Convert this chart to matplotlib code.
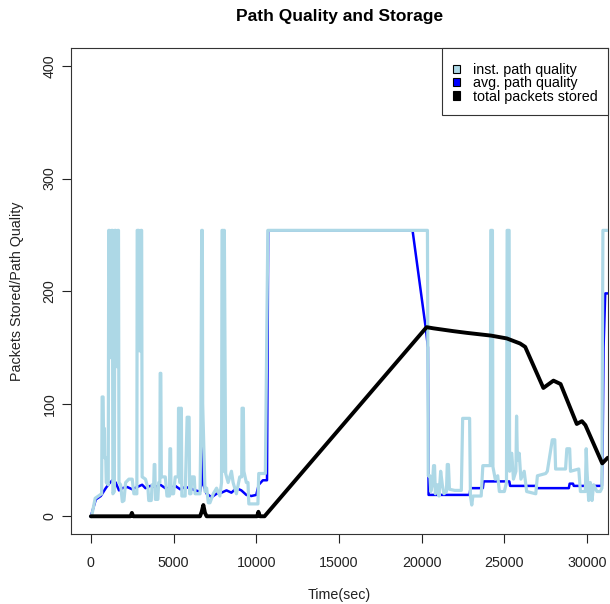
import matplotlib
matplotlib.use("Agg")
import matplotlib.pyplot as plt
from matplotlib.patches import Patch, Rectangle

plt.rcParams['font.family'] = ['Liberation Sans', 'DejaVu Sans']

# ---------------- data ----------------
inst_t = [0, 60, 260, 560, 650, 680, 740, 760, 820, 840, 900, 930, 1050, 1080, 1120, 1150, 1230,
          1260, 1300, 1330, 1420, 1450, 1500, 1530, 1600, 1630, 1670, 1700, 1800, 1900, 2000,
          2100, 2300, 2500, 2600, 2780, 2800, 2900, 2930, 3000, 3030, 3070, 3100, 3300, 3450,
          3500, 3650, 3700, 3800, 3830, 3870, 3900, 4050, 4100, 4170, 4190, 4230, 4260, 4500,
          4600, 4750, 4780, 4820, 4850, 5000, 5100, 5280, 5300, 5340, 5380, 5410, 5440, 5470,
          5500, 5700, 5820, 5940, 5970, 6050, 6100, 6250, 6300, 6600, 6650, 6700, 6740, 6760,
          6900, 7000, 7100, 7200, 7400, 7600, 7800, 7900, 7930, 7970, 8000, 8040, 8070, 8150,
          8300, 8500, 8600, 8800, 9000, 9120, 9140, 9220, 9250, 9400, 9500, 9550, 10000, 10100,
          10150, 10450, 10550, 10700, 20350, 20400, 20500, 20550, 20650, 20720, 20780, 20830,
          20950, 21050, 21150, 21250, 21350, 21500, 21550, 21620, 21680, 22000, 22400, 22480,
          22900, 22950, 23030, 23100, 23600, 23700, 24150, 24180, 24280, 24310, 24450, 24600,
          24700, 25000, 25130, 25170, 25290, 25320, 25450, 25550, 25700, 25740, 25790, 25900,
          26000, 26200, 26350, 26900, 27000, 27500, 27600, 27900, 28050, 28100, 28700, 28780,
          28950, 29000, 29500, 29600, 29900, 29950, 30000, 30100, 30200, 30300, 30400, 30600,
          30800, 30900, 30960, 31300]
inst_v = [0, 1, 16, 19, 20, 106, 106, 78, 78, 52, 52, 30, 28, 254, 254, 141, 141,
          254, 254, 20, 22, 254, 254, 133, 133, 254, 254, 30, 28, 13, 14,
          30, 33, 33, 20, 20, 254, 254, 147, 147, 254, 254, 35, 33, 25,
          14, 14, 28, 28, 46, 46, 15, 15, 30, 30, 127, 127, 35, 35,
          18, 18, 60, 60, 20, 20, 35, 35, 96, 96, 30, 30, 96, 96,
          18, 18, 88, 88, 20, 20, 35, 35, 20, 20, 80, 254, 254, 100,
          22, 25, 12, 12, 20, 25, 18, 30, 254, 254, 40, 254, 254, 38,
          30, 40, 30, 20, 35, 35, 96, 96, 40, 30, 30, 11, 11, 11,
          38, 38, 38, 254, 254, 36, 36, 22, 28, 45, 45, 20,
          28, 18, 40, 28, 20, 22, 46, 46, 24, 23, 23, 87,
          87, 18, 10, 18, 18, 45, 45, 254, 254, 44, 33, 36,
          22, 22, 30, 254, 254, 40, 56, 33, 40, 89, 50, 56,
          33, 40, 22, 20, 36, 38, 40, 68, 68, 42, 42, 60,
          60, 40, 42, 22, 22, 60, 40, 14, 30, 14, 28, 22,
          22, 25, 254, 254]

avg_t = [0, 300, 600, 900, 1100, 1300, 1500, 1700, 1900, 2200, 2500, 2800, 3100, 3300, 3600,
         3900, 4200, 4500, 4800, 5100, 5400, 5700, 6000, 6300, 6600, 6680, 6700, 6720, 6760,
         6800, 7000, 7300, 7600, 7900, 8200, 8500, 8800, 9100, 9400, 9700, 10000, 10150,
         10400, 10650, 10720, 19450, 20250, 20380, 20420, 21500, 22900, 22950, 23700, 23750,
         25300, 25350, 26900, 26950, 28900, 28950, 29150, 29200, 30900, 30950, 31000, 31100,
         31300]
avg_v = [0, 15, 18, 25, 29, 32, 30, 23, 25, 26, 24, 26, 28, 25, 27,
         26, 28, 25, 25, 27, 24, 26, 25, 23, 22, 30, 110, 60, 40,
         28, 20, 17, 20, 21, 23, 21, 25, 23, 19, 18, 19, 28,
         32, 32, 254, 254, 167, 150, 19, 19, 19, 25, 25, 31,
         31, 27, 27, 25, 25, 29, 29, 27, 27, 70, 150, 198,
         198]

total_t = [0, 2400, 2480, 2560, 6600, 6700, 6800, 6900, 7000, 10050, 10130, 10220, 10500,
           20300, 20700, 21900, 22700, 24200, 25150, 25950, 26260, 27360, 27970, 28400,
           29380, 29690, 29900, 30920, 31250]
total_v = [0, 0, 3, 0, 0, 4, 10, 3, 0, 0, 4, 0, 0,
           168, 167, 164.5, 163, 160.5, 158, 153.5, 150.5, 114, 120.5, 117.5,
           82, 84.5, 81, 47, 52]

xticks = [0, 5000, 10000, 15000, 20000, 25000, 30000]
yticks = [0, 100, 200, 300, 400]
legend_labels = ["inst. path quality", "avg. path quality", "total packets stored"]
legend_colors = ["lightblue", "blue", "black"]

# ---------------- figure ----------------
W, H = 610, 604
fig = plt.figure(figsize=(W / 100, H / 100), dpi=100)
L, R, T, B = 70.7, 607.7, 48, 534.3
ax = fig.add_axes([L / W, 1 - B / H, (R - L) / W, (B - T) / H])

ax.plot(avg_t, avg_v, color='blue', lw=1.8, zorder=2)
ax.plot(inst_t, inst_v, color='lightblue', lw=2.3, zorder=3)
ax.plot(total_t, total_v, color='black', lw=2.8, zorder=4,
        solid_joinstyle='round', solid_capstyle='round')

ax.set_xlim(-1220, 31250)
ax.set_ylim(-16, 416)
ax.set_xticks(xticks)
ax.set_xticklabels([str(x) for x in xticks])
ax.set_yticks(yticks)
ax.set_yticklabels([str(y) for y in yticks], rotation=90, va='center')

fs = 10.3
ax.tick_params(axis='both', direction='out', length=6.5, width=0.8,
               labelsize=fs, colors='#222222')
ax.tick_params(axis='x', pad=9)
ax.tick_params(axis='y', pad=3.6)
for s in ax.spines.values():
    s.set_linewidth(0.8)
    s.set_color('#333333')

cx = (L + R) / 2 / W
fig.text(cx, 1 - 17 / H, "Path Quality and Storage", ha='center', va='center',
         fontsize=12.5, fontweight='bold')
fig.text(cx, 1 - 595 / H, "Time(sec)", ha='center', va='center', fontsize=fs, color='#222222')
fig.text(17 / W, 1 - (T + B) / 2 / H, "Packets Stored/Path Quality", ha='center', va='center',
         rotation=90, fontsize=fs, color='#222222')

# legend: frame drawn as a rectangle, entries by the legend machinery
LL, LR, LT, LB = 441.7, 607.7, 48, 115.3
frame = Rectangle(((LL - L) / (R - L), (B - LB) / (B - T)), (LR - LL) / (R - L),
                  (LB - LT) / (B - T), transform=ax.transAxes, facecolor='white',
                  edgecolor='#333333', linewidth=0.8, zorder=5, clip_on=False)
ax.add_patch(frame)
handles = [Patch(facecolor=c, edgecolor='black', linewidth=0.8) for c in legend_colors]
leg = ax.legend(handles, legend_labels, loc='upper left',
                bbox_to_anchor=(452.5 / W, 1 - 63 / H), bbox_transform=fig.transFigure,
                borderaxespad=0, borderpad=0, frameon=False,
                fontsize=fs, handlelength=0.5, handleheight=0.5, handletextpad=0.93,
                labelspacing=-0.05)
leg.set_zorder(6)

fig.savefig("out.png", dpi=100)
